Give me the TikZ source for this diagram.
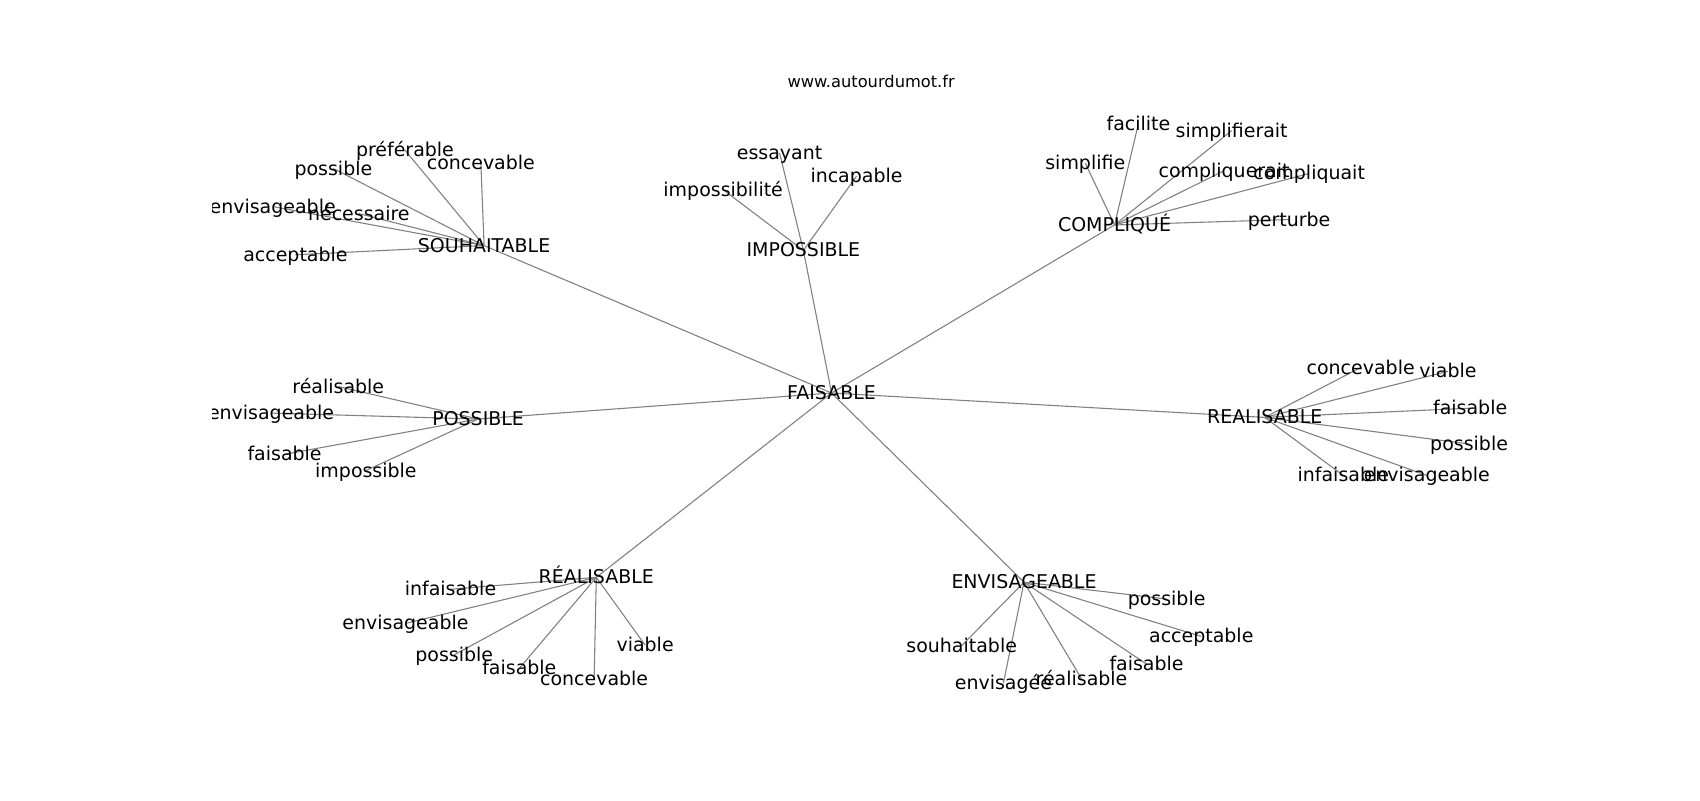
\documentclass[tikz,border=0pt]{standalone}
\usepackage{fontspec}
\setmainfont{DejaVu Sans}
\usetikzlibrary{backgrounds}
\newcommand{\unitpx}{1pt}

\begin{document}
\begin{tikzpicture}
\useasboundingbox (0,0) rectangle (1568*\unitpx,-738*\unitpx);
\tikzstyle{every node}=[inner sep=0pt,
			text height=1.2em,
			text depth=0em,
			font=\fontsize{17.5}{21}\selectfont
			]
\tikzstyle{edge}=[gray, line width=1pt]


\node[font=\fontsize{15}{18}\selectfont] (site) at (803.5*\unitpx,-75*\unitpx) {www.autourdumot.fr};

\begin{scope}
\clip (196*\unitpx,-88.5*\unitpx) rectangle (1411*\unitpx,-657*\unitpx);

% centre
\node (faisable) at (767*\unitpx,-362.5*\unitpx) {FAISABLE};

% groupes
\node (souhaitable) at (446.5*\unitpx,-226.5*\unitpx) {SOUHAITABLE};

\node (impossible) at (741*\unitpx,-231*\unitpx) {IMPOSSIBLE};

\node (complique) at (1028*\unitpx,-207.5*\unitpx) {COMPLIQUÉ};

\node (realisableR) at (1166.5*\unitpx,-385*\unitpx) {REALISABLE};

\node (envisageable) at (944.5*\unitpx,-537*\unitpx) {ENVISAGEABLE};

\node (realisableB) at (550*\unitpx,-532.5*\unitpx) {RÉALISABLE};

\node (possible) at (441*\unitpx,-386.5*\unitpx) {POSSIBLE};

% SOUHAITABLE
\node (preferableS) at (373.5*\unitpx,-138.5*\unitpx) {préférable};

\node (possibleS) at (307.5*\unitpx,-155.5*\unitpx) {possible};

\node (concevableS) at (443.5*\unitpx,-150*\unitpx) {concevable};

\node (envisageableS) at (251.5*\unitpx,-190.5*\unitpx) {envisageable};

\node (necessaireS) at (331*\unitpx,-197*\unitpx) {nécessaire};

\node (acceptableS) at (272.5*\unitpx,-235*\unitpx) {acceptable};

% IMPOSSIBLE
\node (essayantI) at (719*\unitpx,-141*\unitpx) {essayant};

\node (incapableI) at (790*\unitpx,-162.5*\unitpx) {incapable};

\node (impossibiliteI) at (667*\unitpx,-175*\unitpx) {impossibilité};

% COMPLIQUE
\node (faciliteC) at (1050*\unitpx,-114*\unitpx) {facilite};

\node (simplifieraitC) at (1136*\unitpx,-120.5*\unitpx) {simplifierait};

\node (simplifieC) at (1001*\unitpx,-150.5*\unitpx) {simplifie};

\node (compliqueraitC) at (1129*\unitpx,-157.5*\unitpx) {compliquerait};

\node (compliquaitC) at (1207.5*\unitpx,-160*\unitpx) {compliquait};

\node (perturbeC) at (1189*\unitpx,-202.5*\unitpx) {perturbe};

% POSSIBLE
\node (realisableP) at (312*\unitpx,-356.5*\unitpx) {réalisable};

\node (envisageableP) at (250*\unitpx,-381*\unitpx) {envisageable};

\node (faisableP) at (262.5*\unitpx,-419*\unitpx) {faisable};

\node (impossibleP) at (337.5*\unitpx,-434*\unitpx) {impossible};

% REALISABLE (droite)
\node (concevableR) at (1255*\unitpx,-339*\unitpx) {concevable};

\node (viableR) at (1335.5*\unitpx,-342.5*\unitpx) {viable};

\node (faisableR) at (1356*\unitpx,-376.5*\unitpx) {faisable};

\node (possibleR) at (1355*\unitpx,-409.5*\unitpx) {possible};

\node (infaisableR) at (1239*\unitpx,-438.5*\unitpx) {infaisable};

\node (envisageableR) at (1316*\unitpx,-438.5*\unitpx) {envisageable};

% ENVISAGEABLE
\node (possibleE) at (1076*\unitpx,-552.5*\unitpx) {possible};

\node (acceptableE) at (1108*\unitpx,-587*\unitpx) {acceptable};

\node (souhaitableE) at (887*\unitpx,-595.5*\unitpx) {souhaitable};

\node (faisableE) at (1057.5*\unitpx,-612.5*\unitpx) {faisable};

\node (envisageeE) at (925.5*\unitpx,-630*\unitpx) {envisagée};

\node (realisableE) at (997.5*\unitpx,-626*\unitpx) {réalisable};

% RÉALISABLE (bas)
\node (infaisableB) at (415.5*\unitpx,-543.5*\unitpx) {infaisable};

\node (envisageableB) at (374*\unitpx,-575*\unitpx) {envisageable};

\node (possibleB) at (419*\unitpx,-604*\unitpx) {possible};

\node (faisableB) at (479*\unitpx,-616.5*\unitpx) {faisable};

\node (concevableB) at (548*\unitpx,-626*\unitpx) {concevable};

\node (viableB) at (595*\unitpx,-595*\unitpx) {viable};


\begin{pgfonlayer}{background}
\draw[edge] (faisable.center) -- (souhaitable.center);
\draw[edge] (faisable.center) -- (impossible.center);
\draw[edge] (faisable.center) -- (complique.center);
\draw[edge] (faisable.center) -- (realisableR.center);
\draw[edge] (faisable.center) -- (envisageable.center);
\draw[edge] (faisable.center) -- (realisableB.center);
\draw[edge] (faisable.center) -- (possible.center);

\draw[edge] (souhaitable.center) -- (preferableS.center);
\draw[edge] (souhaitable.center) -- (possibleS.center);
\draw[edge] (souhaitable.center) -- (concevableS.center);
\draw[edge] (souhaitable.center) -- (envisageableS.center);
\draw[edge] (souhaitable.center) -- (necessaireS.center);
\draw[edge] (souhaitable.center) -- (acceptableS.center);

\draw[edge] (impossible.center) -- (essayantI.center);
\draw[edge] (impossible.center) -- (incapableI.center);
\draw[edge] (impossible.center) -- (impossibiliteI.center);

\draw[edge] (complique.center) -- (faciliteC.center);
\draw[edge] (complique.center) -- (simplifieraitC.center);
\draw[edge] (complique.center) -- (simplifieC.center);
\draw[edge] (complique.center) -- (compliqueraitC.center);
\draw[edge] (complique.center) -- (compliquaitC.center);
\draw[edge] (complique.center) -- (perturbeC.center);

\draw[edge] (possible.center) -- (realisableP.center);
\draw[edge] (possible.center) -- (envisageableP.center);
\draw[edge] (possible.center) -- (faisableP.center);
\draw[edge] (possible.center) -- (impossibleP.center);

\draw[edge] (realisableR.center) -- (concevableR.center);
\draw[edge] (realisableR.center) -- (viableR.center);
\draw[edge] (realisableR.center) -- (faisableR.center);
\draw[edge] (realisableR.center) -- (possibleR.center);
\draw[edge] (realisableR.center) -- (infaisableR.center);
\draw[edge] (realisableR.center) -- (envisageableR.center);

\draw[edge] (envisageable.center) -- (possibleE.center);
\draw[edge] (envisageable.center) -- (acceptableE.center);
\draw[edge] (envisageable.center) -- (souhaitableE.center);
\draw[edge] (envisageable.center) -- (faisableE.center);
\draw[edge] (envisageable.center) -- (envisageeE.center);
\draw[edge] (envisageable.center) -- (realisableE.center);

\draw[edge] (realisableB.center) -- (infaisableB.center);
\draw[edge] (realisableB.center) -- (envisageableB.center);
\draw[edge] (realisableB.center) -- (possibleB.center);
\draw[edge] (realisableB.center) -- (faisableB.center);
\draw[edge] (realisableB.center) -- (concevableB.center);
\draw[edge] (realisableB.center) -- (viableB.center);
\end{pgfonlayer}

\end{scope}

\end{tikzpicture}
\end{document}
